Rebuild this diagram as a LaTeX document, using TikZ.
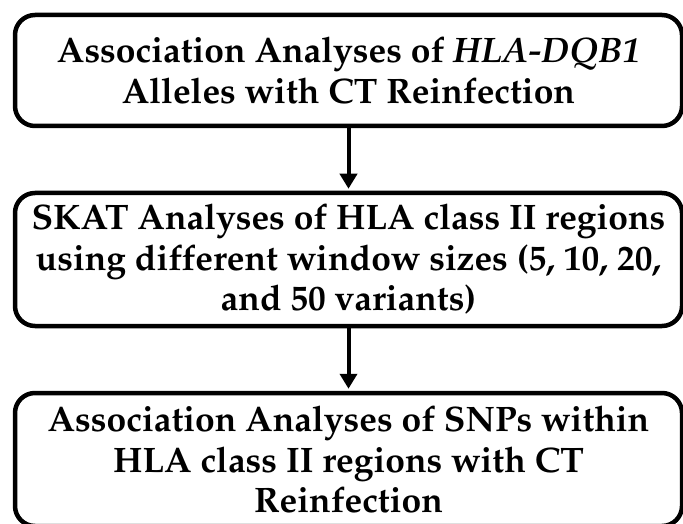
\documentclass[tikz,border=0pt]{standalone}
\IfFileExists{t1ppl.fd}{%
  \usepackage[T1]{fontenc}\usepackage{mathpazo}}{%
  \usepackage{fontspec}\setmainfont{Liberation Serif}}
\usetikzlibrary{arrows.meta}

\tikzset{
  stage/.style={draw, line width=2.25pt, rounded corners=10pt, minimum width=333.5pt,
    align=center, inner sep=0pt, font=\fontsize{17.7}{20.2}\selectfont\bfseries},
  flow/.style={line width=2pt, -{Triangle[width=8.5pt,length=7.5pt]}, shorten >=1pt}
}

\begin{document}
\begin{tikzpicture}[x=0.5pt,y=-0.5pt]
\useasboundingbox (0,0) rectangle (683,523);

% Analysis stages
\node[stage, minimum height=55.5pt] (alleles) at (348.5,70.5)
  {Association Analyses of \textit{HLA-DQB1}\\Alleles with CT Reinfection};
\node[stage, minimum height=66.5pt] (skat) at (348.5,259.5)
  {SKAT Analyses of HLA class II regions\\using different window sizes (5, 10, 20,\\and 50 variants)};
\node[stage, minimum height=66.5pt] (snps) at (348.5,459.5)
  {Association Analyses of SNPs within\\HLA class II regions with CT\\Reinfection};

% Arrows
\draw[flow] (alleles) -- (skat);
\draw[flow] (skat) -- (snps);
\end{tikzpicture}
\end{document}
